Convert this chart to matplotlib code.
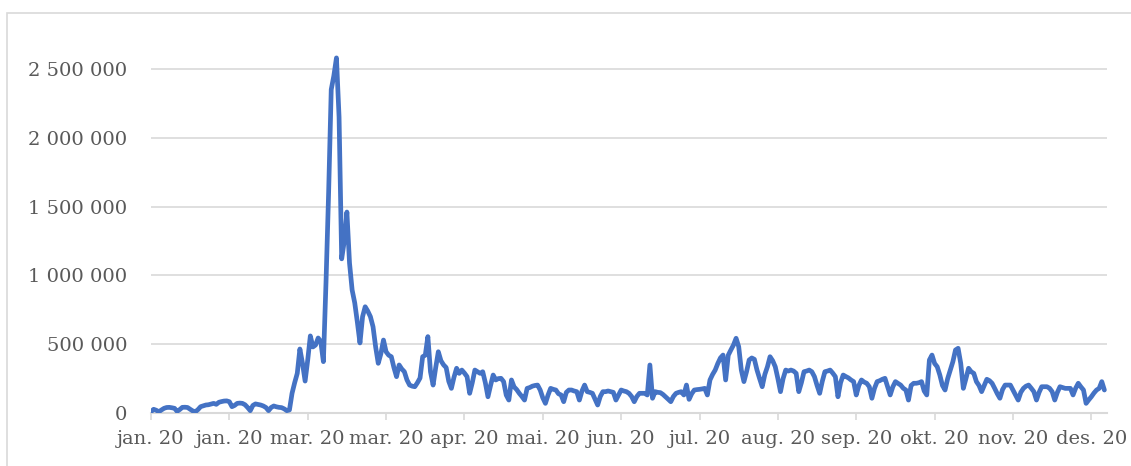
import matplotlib
matplotlib.use("Agg")
from matplotlib import pyplot as plt
from matplotlib.patches import Rectangle
from matplotlib.ticker import FuncFormatter

# Daily values for 2020 (thousands)
jan_feb = [9, 27, 20, 9, 22, 34, 40, 41, 38, 34, 12, 25, 41, 42, 40, 27, 15, 9, 25, 46,
           52, 58, 60, 65, 70, 63, 78, 83, 87, 88, 82, 46, 55, 70, 72, 70, 60, 40, 17, 55,
           66, 62, 58, 51, 40, 17, 40, 51, 45, 41, 39, 30, 17, 22, 143, 220, 288, 465, 361, 232]
mar_apr = [385, 560, 480, 494, 545, 520, 373, 950, 1600, 2350, 2450, 2580, 2150, 1120, 1250, 1460, 1090, 894, 800, 660,
           509, 700, 772, 740, 700, 627, 480, 361, 430, 530, 445, 420, 409, 330, 264, 349, 320, 300, 240, 203,
           195, 191, 220, 254, 409, 420, 555, 300, 203, 330, 445, 380, 350, 330, 230, 179, 260, 325, 288, 312,
           290]
may_jun = [264, 143, 220, 312, 300, 288, 300, 220, 118, 200, 276, 240, 250, 252, 228, 130, 94, 240, 190, 170,
           143, 120, 94, 179, 185, 195, 200, 203, 167, 110, 70, 130, 179, 172, 167, 140, 131, 82, 150, 167,
           167, 160, 155, 94, 160, 203, 155, 150, 143, 100, 58, 120, 155, 155, 160, 155, 150, 94, 130, 167,
           160]
jul_aug = [155, 143, 120, 82, 120, 143, 143, 143, 131, 349, 107, 155, 150, 148, 135, 118, 100, 82, 120, 143,
           150, 155, 131, 203, 99, 140, 167, 170, 172, 175, 179, 131, 240, 280, 312, 360, 400, 421, 240, 420,
           458, 494, 543, 482, 312, 228, 300, 385, 400, 390, 312, 250, 191, 280, 336, 409, 380, 336, 250, 155,
           250, 312]
sep_okt = [305, 312, 305, 288, 155, 220, 300, 305, 312, 300, 264, 200, 143, 230, 300, 305, 312, 290, 264, 118,
           220, 276, 265, 255, 240, 228, 131, 200, 240, 225, 216, 191, 107, 180, 228, 235, 245, 252, 191, 131,
           190, 228, 215, 203, 180, 167, 94, 200, 216, 216, 220, 228, 160, 131, 385, 421, 360, 336, 276, 200,
           167, 250]
nov_des = [312, 373, 458, 470, 361, 179, 250, 325, 300, 288, 228, 200, 155, 200, 245, 235, 216, 179, 140, 107,
           170, 203, 203, 203, 167, 130, 94, 150, 179, 195, 203, 180, 155, 94, 150, 191, 191, 191, 180, 155,
           94, 150, 191, 185, 179, 179, 179, 131, 180, 216, 190, 167, 70, 95, 118, 145, 167, 179, 228, 167]

values = [v * 1000 for v in jan_feb + mar_apr + may_jun + jul_aug + sep_okt + nov_des]
days = list(range(len(values)))

tick_days = [0, 30, 60, 90, 120, 150, 180, 210, 240, 270, 300, 330, 360]
tick_labels = ['jan. 20', 'jan. 20', 'mar. 20', 'mar. 20', 'apr. 20', 'mai. 20', 'jun. 20',
               'jul. 20', 'aug. 20', 'sep. 20', 'okt. 20', 'nov. 20', 'des. 20']
y_ticks = [0, 500000, 1000000, 1500000, 2000000, 2500000]

plt.rcParams['font.family'] = 'DejaVu Serif'

fig = plt.figure(figsize=(11.31, 4.66), dpi=100)
ax = fig.add_axes([151 / 1131, 53 / 466, 956 / 1131, 373 / 466])

# outer chart border
fig.patches.append(Rectangle((7 / 1131, -0.05), 1.2, (466 - 13) / 466 + 0.05,
                             transform=fig.transFigure, fill=False,
                             edgecolor='#d9d9d9', linewidth=1.2))

ax.plot(days, values, color='#4472C4', linewidth=3.4, solid_joinstyle='round',
        solid_capstyle='round', zorder=3)

ax.set_xlim(0, 366)
ax.set_ylim(0, 2710000)
ax.set_yticks(y_ticks)
ax.yaxis.set_major_formatter(FuncFormatter(lambda v, p: f"{v:,.0f}".replace(",", " ")))
ax.set_xticks(tick_days)
ax.set_xticklabels(tick_labels)

ax.grid(axis='y', color='#d9d9d9', linewidth=1.2, zorder=0)
for side in ['top', 'right', 'left']:
    ax.spines[side].set_visible(False)
ax.spines['bottom'].set_color('#d9d9d9')
ax.spines['bottom'].set_linewidth(1.5)

ax.tick_params(axis='y', length=0, pad=17, labelsize=14, labelcolor='#595959')
ax.tick_params(axis='x', length=5, width=1.2, color='#d9d9d9', pad=7,
               labelsize=14, labelcolor='#595959')

plt.savefig('out.png', dpi=100)
